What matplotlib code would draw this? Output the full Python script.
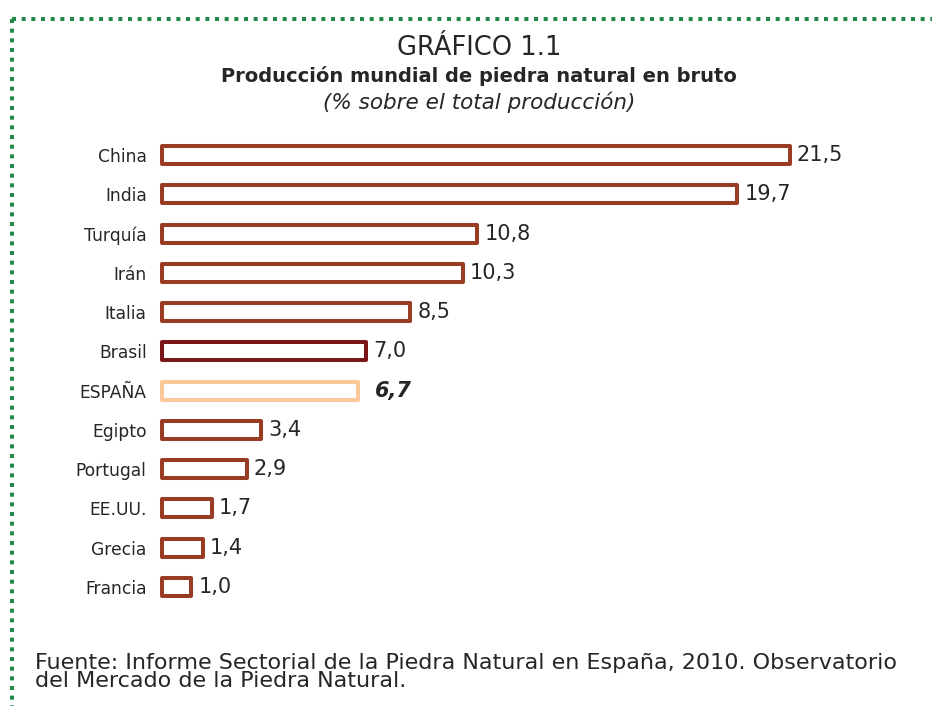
import matplotlib
matplotlib.use("Agg")
import matplotlib.pyplot as plt
from matplotlib.lines import Line2D

# datos del gráfico
paises = ["China", "India", "Turquía", "Irán", "Italia", "Brasil", "ESPAÑA",
          "Egipto", "Portugal", "EE.UU.", "Grecia", "Francia"]
valores = [21.5, 19.7, 10.8, 10.3, 8.5, 7.0, 6.7, 3.4, 2.9, 1.7, 1.4, 1.0]
etiquetas = ["21,5", "19,7", "10,8", "10,3", "8,5", "7,0", "6,7",
             "3,4", "2,9", "1,7", "1,4", "1,0"]

ROJO = "#9A3B24"
OSCURO = "#7B1616"
CLARO = "#FBC89A"
VERDE = "#23894A"
TEXTO = "#262626"

plt.rcParams["font.family"] = ["DejaVu Sans"]

fig = plt.figure(figsize=(9.32, 7.06), dpi=100)
W, H = 932, 706

# marco punteado verde
borde = dict(color=VERDE, linewidth=2.9, dashes=(1, 1.4), solid_capstyle="butt",
             dash_capstyle="butt", transform=fig.transFigure)
fig.add_artist(Line2D([12 / W, 1.0], [1 - 19 / H, 1 - 19 / H], **borde))
fig.add_artist(Line2D([12 / W, 12 / W], [1 - 19 / H, 0.0], **borde))

# títulos
fig.text(479 / W, 1 - 48 / H, "GRÁFICO 1.1", ha="center", va="center",
         fontsize=18.5, color=TEXTO)
fig.text(479 / W, 1 - 76 / H, "Producción mundial de piedra natural en bruto",
         ha="center", va="center", fontsize=14, fontweight="bold", color=TEXTO)
fig.text(479 / W, 1 - 102 / H, "(% sobre el total producción)", ha="center",
         va="center", fontsize=15.5, style="italic", color=TEXTO)

# barras
ax = fig.add_axes([162 / W, 1 - 606.6 / H, 759 / W, 471.2 / H])
pos = list(range(len(paises)))
bordes = []
for p in paises:
    if p == "Brasil":
        bordes.append(OSCURO)
    elif p == "ESPAÑA":
        bordes.append(CLARO)
    else:
        bordes.append(ROJO)

barras = ax.barh(pos, valores, height=0.46, color="white", edgecolor=bordes,
                 linewidth=2.9, joinstyle="round")
for b in barras:
    b.set_clip_on(False)
ax.set_xlim(0, 26)
ax.set_ylim(len(paises) - 0.5, -0.5)
ax.set_yticks(pos)
ax.set_yticklabels(paises, fontsize=12.3, color=TEXTO)
ax.tick_params(axis="y", length=0, pad=11)
ax.set_xticks([])
for s in ax.spines.values():
    s.set_visible(False)

for i, (v, t) in enumerate(zip(valores, etiquetas)):
    if paises[i] == "ESPAÑA":
        ax.text(v + 0.6, i, t, va="center", ha="left", fontsize=15,
                fontweight="bold", style="italic", color=TEXTO)
    else:
        ax.text(v + 0.25, i, t, va="center", ha="left", fontsize=15,
                color=TEXTO)

# fuente
fig.text(35 / W, 1 - 672 / H,
         "Fuente: Informe Sectorial de la Piedra Natural en España, 2010. Observatorio\n"
         "del Mercado de la Piedra Natural.",
         ha="left", va="center", fontsize=16, color=TEXTO, linespacing=0.92)

fig.savefig("out.png", dpi=100, facecolor="white")
